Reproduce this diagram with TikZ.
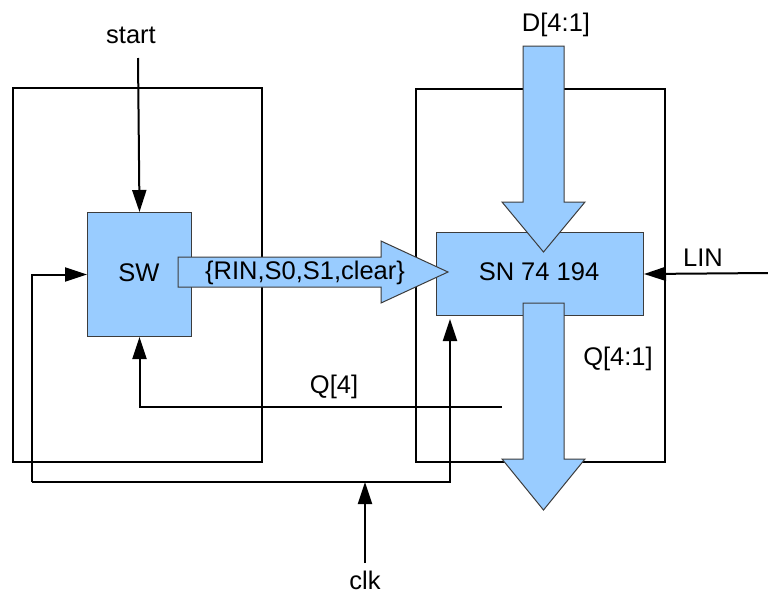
\documentclass[tikz,border=0pt]{standalone}
\usepackage{fontspec}
\setmainfont{Liberation Sans}
\usetikzlibrary{arrows.meta,calc}
\definecolor{lblue}{HTML}{99CCFF}
\definecolor{edgegray}{HTML}{3C3C3C}
\begin{document}
\begin{tikzpicture}[x=1pt,y=-1pt,
  wire/.style={line width=2pt,black},
  arr/.style={wire,-{Triangle[length=22pt,width=14pt]}},
  frame/.style={draw,line width=2pt,inner sep=0pt},
  block/.style={draw=edgegray,fill=lblue,line width=1pt,inner sep=0pt,
    font=\fontsize{25.5}{30}\selectfont},
  bus/.style={draw=edgegray,fill=lblue,line width=1pt,line join=miter},
  lbl/.style={font=\fontsize{25.5}{30}\selectfont,inner sep=0pt}]
\useasboundingbox (0,0) rectangle (768,595);
% frames
\node[frame,minimum width=249pt,minimum height=374pt,anchor=north west] (FL) at (12,87) {};
\node[frame,minimum width=249pt,minimum height=373pt,anchor=north west] (FR) at (415,88) {};
% coordinates
\coordinate (startc) at (138,58);
\coordinate (loopL) at (32,482);
\coordinate (loopR) at (450,482);
\coordinate (clkj) at (365,482);
\coordinate (clkc) at (365,563);
\coordinate (q4c) at (502,407);
\coordinate (linc) at (768,273);
% blocks (for anchors)
\node[block,minimum width=104pt,minimum height=124pt,anchor=north west] (SW) at (87,212) {};
\node[block,minimum width=207pt,minimum height=83pt,anchor=north west] (SN) at (436,232) {};
% wires
\draw[arr] (startc) -- (SW.north);
\draw[arr] (loopL) |- (SW.west);
\draw[arr] (loopL) -- (loopR) -- ($(loopR |- SN.south)+(0,3)$);
\draw[arr] (clkc) -- (clkj);
\draw[arr] (q4c) -| (SW.south);
\draw[arr] (linc) -- (SN.east);
% redraw blocks on top
\node[block,minimum width=104pt,minimum height=124pt,anchor=north west] at (87,212) {};
\node[block,minimum width=207pt,minimum height=83pt,anchor=north west] at (436,232) {};
% bus arrows
\draw[bus] (178,257) -- (381,257) -- (381,241) -- (448,272) -- (381,303) -- (381,287) -- (178,287) -- cycle;
\draw[bus] (523,46) -- (564,46) -- (564,202) -- (585,202) -- (543.5,252) -- (502,202) -- (523,202) -- cycle;
\draw[bus] (523,303) -- (564,303) -- (564,459) -- (585,459) -- (543.5,510) -- (502,459) -- (523,459) -- cycle;
% labels
\node[lbl] (tstart) at (131,35) {start};
\node[lbl] (tD) at (556,25) {D[4:1]};
\node[lbl] (tSW) at (139,273) {SW};
\node[lbl] (tbus) at (305,273) {\{RIN,S0,S1,clear\}};
\node[lbl] (tSN) at (539,272) {SN 74 194};
\node[lbl] (tLIN) at (703,258) {LIN};
\node[lbl] (tQ) at (618,359) {Q[4:1]};
\node[lbl] (tQ4) at (334,387) {Q[4]};
\node[lbl] (tclk) at (365,580) {clk};
\end{tikzpicture}
\end{document}
